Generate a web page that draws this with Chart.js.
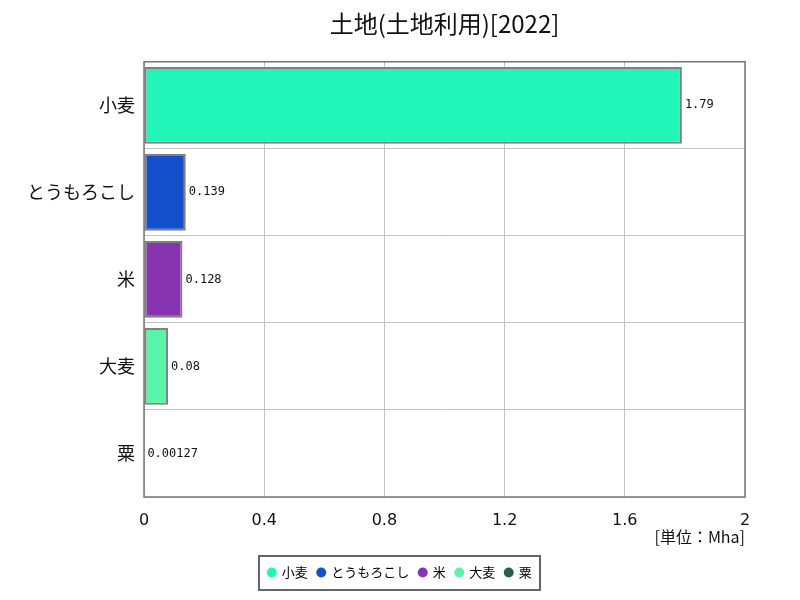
<!DOCTYPE html>
<html>
<head>
<meta charset="utf-8">
<script src="https://cdn.jsdelivr.net/npm/chart.js@4/dist/chart.umd.min.js"></script>
<style>
  html, body { margin: 0; padding: 0; background: #fff; }
  #wrap { width: 800px; height: 600px; }
</style>
</head>
<body>
<div id="wrap"><canvas id="landChart" width="800" height="600"></canvas></div>
<script>
// data
const categories = ['小麦', 'とうもろこし', '米', '大麦', '粟'];
const values = [1.79, 0.139, 0.128, 0.08, 0.00127];
const valueLabels = ['1.79', '0.139', '0.128', '0.08', '0.00127'];
const barColors = ['#22f5b8', '#1450cc', '#8833b0', '#58f5a8', '#2a5e48'];
const xTicks = [0, 0.4, 0.8, 1.2, 1.6, 2];

const jpFont = "'Noto Sans CJK JP', 'DejaVu Sans', sans-serif";

// value labels, unit text, frames
const extras = {
    id: 'extras',
    afterLayout(chart) {
        // title sits over the plot area, legend over the canvas centre
        const a = chart.chartArea;
        const t = chart.titleBlock;
        const ts = (a.left + a.right) / 2 - (t.left + t.right) / 2;
        t.left += ts;
        t.right += ts;
        const lg = chart.legend;
        const ls = chart.width / 2 - (lg.left + lg.right) / 2;
        lg.left += ls;
        lg.right += ls;
    },
    afterDatasetsDraw(chart) {
        const c = chart.ctx;
        const meta = chart.getDatasetMeta(0);
        c.save();
        c.fillStyle = '#111';
        c.font = "12px 'DejaVu Sans Mono', monospace";
        c.textBaseline = 'middle';
        meta.data.forEach((bar, i) => {
            c.fillText(valueLabels[i], bar.x + 3, bar.y);
        });
        c.restore();
    },
    afterDraw(chart) {
        const c = chart.ctx;
        const a = chart.chartArea;
        c.save();
        c.strokeStyle = '#777';
        c.lineWidth = 1.5;
        c.strokeRect(a.left, a.top, a.right - a.left, a.bottom - a.top);
        c.fillStyle = '#111';
        c.font = "16px " + jpFont;
        c.textAlign = 'right';
        c.textBaseline = 'middle';
        c.fillText('[単位：Mha]', a.right, 537);
        c.strokeStyle = '#666';
        c.lineWidth = 2;
        c.strokeRect(259, 556, 281, 34);
        c.restore();
    }
};

new Chart(document.getElementById('landChart'), {
    type: 'bar',
    data: {
        labels: categories,
        datasets: [{
            data: values,
            backgroundColor: barColors,
            borderColor: '#808080',
            borderWidth: 2,
            borderSkipped: false,
            categoryPercentage: 0.9,
            barPercentage: 0.98
        }]
    },
    options: {
        indexAxis: 'y',
        responsive: false,
        animation: false,
        layout: { padding: { left: 0, right: 55, top: 0, bottom: 11 } },
        scales: {
            x: {
                min: 0,
                max: 2,
                afterBuildTicks(scale) {
                    scale.ticks = xTicks.map(v => ({ value: v }));
                },
                grid: { color: '#c4c4c4', lineWidth: 1, drawTicks: false },
                border: { display: false },
                ticks: {
                    color: '#111',
                    padding: 14,
                    maxRotation: 0,
                    font: { size: 16, family: "'DejaVu Sans', sans-serif" },
                    callback: v => String(v)
                },
                afterFit(scale) { scale.height = 59; }
            },
            y: {
                grid: { offset: true, color: '#c4c4c4', lineWidth: 1, drawTicks: false },
                border: { display: false },
                ticks: {
                    color: '#111',
                    padding: 9,
                    font: { size: 18, family: jpFont }
                },
                afterFit(scale) { scale.width = 144; }
            }
        },
        plugins: {
            title: {
                display: true,
                text: '土地(土地利用)[2022]',
                color: '#111',
                font: { size: 24, weight: 'normal', family: jpFont },
                padding: { top: 9, bottom: 24 }
            },
            legend: {
                position: 'bottom',
                labels: {
                    usePointStyle: true,
                    pointStyle: 'circle',
                    boxWidth: 7,
                    boxHeight: 7,
                    padding: 10,
                    color: '#111',
                    font: { size: 13, family: jpFont },
                    generateLabels() {
                        return categories.map((name, i) => ({
                            text: name,
                            fillStyle: barColors[i],
                            strokeStyle: barColors[i],
                            lineWidth: 0,
                            pointStyle: 'circle',
                            hidden: false,
                            index: i
                        }));
                    }
                }
            },
            tooltip: { enabled: false }
        }
    },
    plugins: [extras]
});
</script>
</body>
</html>
